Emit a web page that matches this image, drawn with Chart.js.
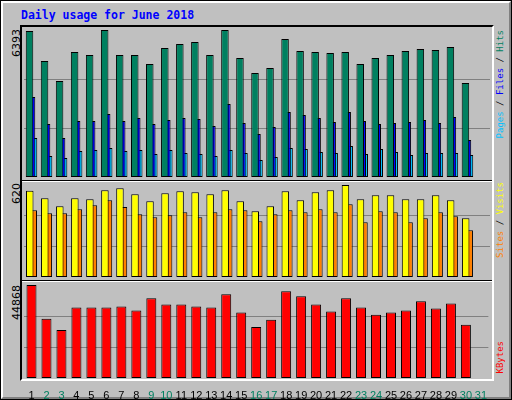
<!DOCTYPE html>
<html><head><meta charset="utf-8">
<script src="https://cdn.jsdelivr.net/npm/chart.js@4/dist/chart.umd.min.js"></script>
<style>
body{margin:0;background:#c0c0c0}
#f{position:absolute;left:0;top:0;width:510px;height:398px;border:1px solid #000;background:#c0c0c0;overflow:hidden}
#f2{position:absolute;left:0;top:0;width:506px;height:394px;border-top:2px solid #fff;border-left:2px solid #fff;border-right:2px solid #808080;border-bottom:2px solid #808080}
#box{position:absolute;left:19px;top:24px;width:470px;height:352px;border-top:2px solid #000;border-left:2px solid #000;border-right:2px solid #fff;border-bottom:2px solid #fff}
.div{position:absolute;left:21px;width:470px;height:1px;background:#000;border-bottom:1px solid #fff}
canvas{position:absolute}
.t{position:absolute;font-family:'DejaVu Sans Mono',monospace;font-size:11.5px;font-weight:bold;color:#0000ff;left:20px;top:7px}
.r{position:absolute;width:200px;text-align:right;transform-origin:0 0;transform:rotate(-90deg) translateX(-200px);white-space:nowrap;font-family:'DejaVu Sans Mono',monospace;font-size:9px;line-height:10px}
.l{position:absolute;width:80px;text-align:right;transform-origin:0 0;transform:rotate(-90deg) translateX(-80px);white-space:nowrap;font-family:'DejaVu Sans',sans-serif;font-size:11px;line-height:11px;color:#000}
</style></head><body>
<div id="f"><div id="f2"></div>
<div class="t">Daily usage for June 2018</div>
<div id="box"></div>
<div class="div" style="top:179px"></div>
<div class="div" style="top:279px"></div>
<canvas id="c1" width="466" height="148" style="left:23px;top:28px"></canvas>
<canvas id="c2" width="466" height="93" style="left:23px;top:183px"></canvas>
<canvas id="c3" width="466" height="116" style="left:23px;top:283px"></canvas>
<div class="l" style="left:10px;top:28px">6393</div>
<div class="l" style="left:10px;top:182px">620</div>
<div class="l" style="left:10px;top:284px">44868</div>
<div class="r" style="left:494px;top:29px"><span style="color:#00c0ff">Pages</span> / <span style="color:#0000ff">Files</span> / <span style="color:#008060">Hits</span></div>
<div class="r" style="left:494px;top:181px"><span style="color:#ff8000">Sites</span> / <span style="color:#ffff00">Visits</span></div>
<div class="r" style="left:494px;top:340px"><span style="color:#ff0000">KBytes</span></div>
</div>
<script>
const days=['1','2','3','4','5','6','7','8','9','10','11','12','13','14','15','16','17','18','19','20','21','22','23','24','25','26','27','28','29','30','31'];
const weekend=['2','3','9','10','16','17','23','24','30','31'];
const hits=[6350,5045,4175,5436,5306,6393,5306,5306,4914,5610,5784,5871,5306,6393,5175,4523,4740,6002,5480,5436,5393,5436,4914,5175,5306,5480,5567,5523,5654,4088,null];
const files=[3479,2305,1696,2435,2435,2740,2435,2566,2305,2479,2566,2522,2218,3175,2348,1870,2174,2827,2696,2566,2392,2827,2435,2305,2348,2392,2479,2348,2609,1609,null];
const pages=[1696,913,826,1131,1174,1261,1131,1174,1000,1174,1044,1000,913,1174,1044,739,870,1261,1218,1087,1044,1348,1000,1218,1087,957,1044,1044,1044,957,null];
const visits=[582,530,476,530,524,584,598,557,510,564,578,571,557,584,510,443,476,578,517,571,584,620,524,551,551,524,524,551,517,396,null];
const sites=[449,429,429,456,483,517,472,423,402,416,436,402,436,456,449,375,423,449,436,456,436,490,369,443,436,369,396,436,409,315,null];
const kbytes=[44868,28594,23171,34017,34017,34017,34510,32538,38454,35496,35496,34510,34017,40426,31552,24650,28101,41905,39440,35496,32045,38454,34017,30566,31552,32538,36975,33524,35989,25636,null];
const maxes=[6393,620,44868];

function mk(id,sets,max,cp,bp,showX){
  return new Chart(document.getElementById(id),{type:'bar',
    data:{labels:days,datasets:sets.map(s=>({data:s[0],backgroundColor:s[1],borderColor:'#000',borderWidth:1,borderSkipped:false,categoryPercentage:cp,barPercentage:bp}))},
    options:{responsive:false,animation:false,devicePixelRatio:1,layout:{padding:{top:1}},
      plugins:{legend:{display:false},tooltip:{enabled:false}},
      scales:{
        x:{display:showX,grid:{display:false},border:{display:false},
           ticks:{autoSkip:false,maxRotation:0,padding:3,font:{family:'Liberation Sans',size:11},color:c=>weekend.includes(days[c.index])?'#008060':'#000'},
           afterFit:s=>{if(showX)s.height=22;}},
        y:{min:0,max:max,ticks:{display:false},border:{display:false},grid:{color:'#808080',drawTicks:false},
           afterBuildTicks:s=>{s.ticks=[{value:max/3},{value:max*2/3}]},afterFit:s=>{s.width=0}}
      }}});
}
mk('c1',[[hits,'#008060'],[files,'#0000ff'],[pages,'#00c0ff']],maxes[0],0.4,3.75,false);
mk('c2',[[visits,'#ffff00'],[sites,'#ff8000']],maxes[1],0.467,2.14,false);
mk('c3',[[kbytes,'#ff0000']],maxes[2],1,0.667,true);
</script></body></html>
